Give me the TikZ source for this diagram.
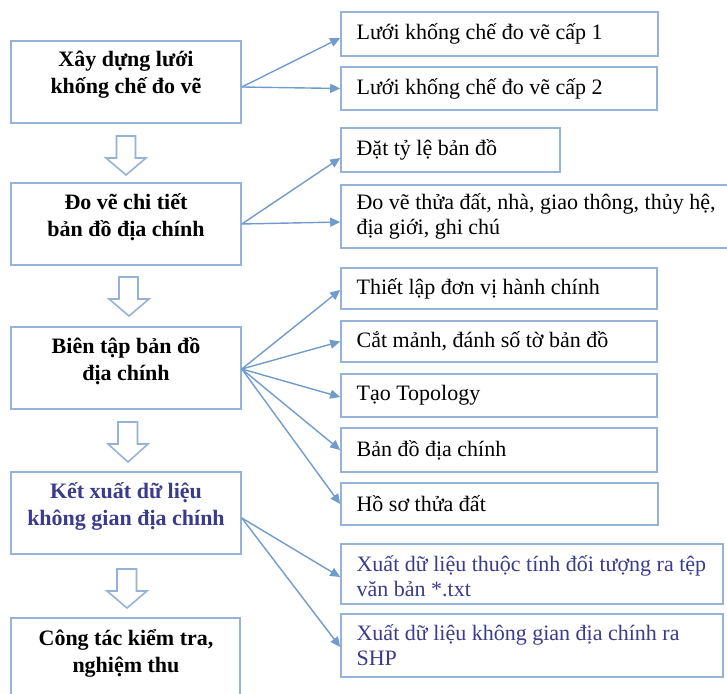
\documentclass[tikz,border=0pt]{standalone}
\usepackage{fontspec}
\setmainfont{Liberation Serif}
\usetikzlibrary{arrows.meta,fit}
\definecolor{boxc}{HTML}{95B3D7}
\definecolor{arrc}{HTML}{6F9BCD}
\definecolor{bluetxt}{HTML}{3B3B8E}
\tikzset{
  boxs/.style={draw=boxc, line width=0.8pt, inner sep=0pt, fill=white},
  ltext/.style={align=center, font=\bfseries\fontsize{11}{13.5}\selectfont, inner sep=0pt},
  rtext/.style={align=left, anchor=west, font=\fontsize{11}{12.6}\selectfont, inner sep=0pt},
  conn/.style={draw=arrc, line width=0.7pt, -{Triangle[length=5pt,width=4.5pt]}},
  hollow/.style={draw=boxc, line width=0.8pt, fill=white, line join=miter}
}
\begin{document}
\begin{tikzpicture}[x=0.5pt,y=-0.5pt]
\useasboundingbox (0,0) rectangle (727,694);
% left boxes
\node[boxs, fit={(11,41) (241,123)}] (l1) {};
\node[boxs, fit={(11,183) (241,265)}] (l2) {};
\node[boxs, fit={(11,327) (241,409)}] (l3) {};
\node[boxs, fit={(11,472) (241,554)}] (l4) {};
\node[boxs, fit={(11,618) (240,710)}] (l5) {};
\node[ltext] (l1t) at ([yshift=3.5pt]l1.center) {Xây dựng lưới\\khống chế đo vẽ};
\node[ltext] (l2t) at ([yshift=3.5pt]l2.center) {Đo vẽ chi tiết\\bản đồ địa chính};
\node[ltext] (l3t) at ([yshift=3.5pt]l3.center) {Biên tập bản đồ\\địa chính};
\node[ltext, text=bluetxt] (l4t) at ([yshift=3.5pt]l4.center) {Kết xuất dữ liệu\\không gian địa chính};
\node[ltext] (l5t) at (126,653) {Công tác kiểm tra,\\nghiệm thu};
% hollow arrows
\draw[hollow] (116.5,136) -- (135.5,136) -- (135.5,158) -- (146,158) -- (126,175) -- (106,158) -- (116.5,158) -- cycle;
\draw[hollow] (119,277) -- (138,277) -- (138,299) -- (149,299) -- (129,316) -- (109,299) -- (119,299) -- cycle;
\draw[hollow] (118,422) -- (137.5,422) -- (137.5,444) -- (148,444) -- (128,462) -- (108,444) -- (118,444) -- cycle;
\draw[hollow] (117,569) -- (136.5,569) -- (136.5,591) -- (147,591) -- (127,608) -- (107,591) -- (117,591) -- cycle;
% right boxes
\node[boxs, fit={(341,12) (658,56)}] (r1) {};
\node[boxs, fit={(341,67) (657,110)}] (r2) {};
\node[boxs, fit={(341,128) (560,172)}] (r3) {};
\node[boxs, fit={(341,185) (745,248)}] (r4) {};
\node[boxs, fit={(341,268) (657,309)}] (r5) {};
\node[boxs, fit={(341,321) (657,362)}] (r6) {};
\node[boxs, fit={(341,374) (657,417)}] (r7) {};
\node[boxs, fit={(341,428) (657,472)}] (r8) {};
\node[boxs, fit={(341,483) (658,525)}] (r9) {};
\node[boxs, fit={(341,544) (723,604)}] (r10) {};
\node[boxs, fit={(341,614) (723,677)}] (r11) {};
\node[rtext] (r1t) at ([xshift=8pt]r1.west) {Lưới khống chế đo vẽ cấp 1};
\node[rtext] (r2t) at ([xshift=8pt]r2.west) {Lưới khống chế đo vẽ cấp 2};
\node[rtext] (r3t) at ([xshift=8pt]r3.west) {Đặt tỷ lệ bản đồ};
\node[rtext] (r4t) at ([xshift=8pt]r4.west) {Đo vẽ thửa đất, nhà, giao thông, thủy hệ,\\địa giới, ghi chú};
\node[rtext] (r5t) at ([xshift=8pt]r5.west) {Thiết lập đơn vị hành chính};
\node[rtext] (r6t) at ([xshift=8pt]r6.west) {Cắt mảnh, đánh số tờ bản đồ};
\node[rtext] (r7t) at ([xshift=8pt]r7.west) {Tạo Topology};
\node[rtext] (r8t) at ([xshift=8pt]r8.west) {Bản đồ địa chính};
\node[rtext] (r9t) at ([xshift=8pt]r9.west) {Hồ sơ thửa đất};
\node[rtext, text=bluetxt] (r10t) at ([xshift=8pt,yshift=-1pt]r10.west) {Xuất dữ liệu thuộc tính đối tượng ra tệp\\văn bản *.txt};
\node[rtext, text=bluetxt] (r11t) at ([xshift=8pt]r11.west) {Xuất dữ liệu không gian địa chính ra\\SHP};
% connectors
\draw[conn] ([yshift=-2.5pt]l1.east) -- ([yshift=-2pt]r1.west);
\draw[conn] ([yshift=-2.5pt]l1.east) -- (r2.west);
\draw[conn] (l2.east) -- ([yshift=-4pt]r3.west);
\draw[conn] (l2.east) -- ([yshift=-2.75pt]r4.west);
\draw[conn] ([yshift=-0.5pt]l3.east) -- ([yshift=-0.75pt]r5.west);
\draw[conn] ([yshift=-0.5pt]l3.east) -- (r6.west);
\draw[conn] ([yshift=-0.5pt]l3.east) -- ([yshift=-0.75pt]r7.west);
\draw[conn] ([yshift=-0.5pt]l3.east) -- (r8.west);
\draw[conn] ([yshift=-0.5pt]l3.east) -- (r9.west);
\draw[conn] ([yshift=-2.5pt]l4.east) -- ([yshift=-1.5pt]r10.west);
\draw[conn] ([yshift=-2.5pt]l4.east) -- ([yshift=-0.75pt]r11.west);
\end{tikzpicture}
\end{document}
